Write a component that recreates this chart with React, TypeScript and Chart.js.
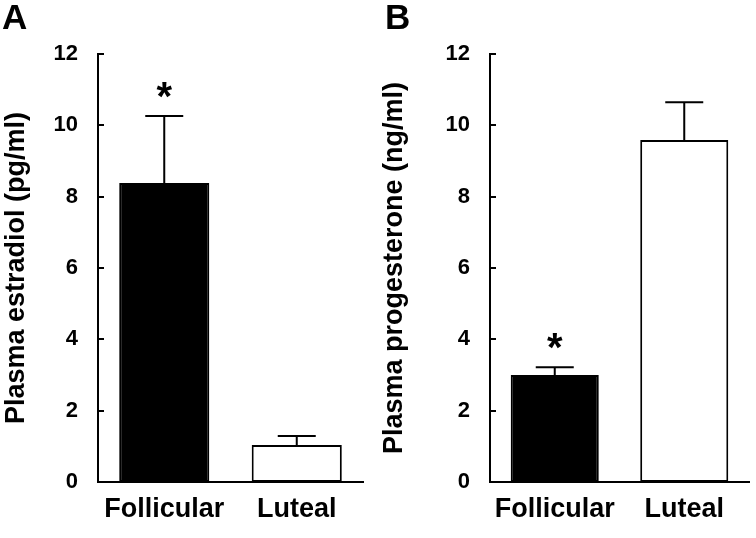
import React, { useEffect, useRef } from "react";
import { Chart, registerables } from "chart.js";

Chart.register(...registerables);

const categories = ["Follicular", "Luteal"];
const estradiolMeans = [8.38, 1.04];
const estradiolSem = [1.88, 0.25];
const progesteroneMeans = [3.0, 9.59];
const progesteroneSem = [0.22, 1.06];
const barColors = ["#000000", "#ffffff"];
const yTicks = [0, 2, 4, 6, 8, 10, 12];
const significant = [true, false];

const FONT = "'Liberation Sans', Arial, sans-serif";

const overlayPlugin = {
  id: "overlay",
  afterDatasetsDraw(chart: any, _args: any, opts: any) {
    const ctx = chart.ctx;
    const x = chart.scales.x;
    const y = chart.scales.y;
    ctx.save();
    ctx.strokeStyle = "#000";
    ctx.lineWidth = 2;
    // inward ticks
    for (const t of yTicks) {
      const py = Math.round(y.getPixelForValue(t));
      ctx.beginPath();
      ctx.moveTo(x.left, py);
      ctx.lineTo(x.left + 6, py);
      ctx.stroke();
    }
    const means: number[] = opts.means;
    const sems: number[] = opts.sems;
    means.forEach((m, i) => {
      const cx = x.getPixelForValue(i);
      const top = y.getPixelForValue(m);
      const et = y.getPixelForValue(m + sems[i]);
      ctx.beginPath();
      ctx.moveTo(cx, top);
      ctx.lineTo(cx, et);
      ctx.moveTo(cx - 19, et);
      ctx.lineTo(cx + 19, et);
      ctx.stroke();
      if (opts.sig[i]) {
        ctx.fillStyle = "#000";
        ctx.font = "bold 40px " + FONT;
        ctx.textAlign = "center";
        ctx.textBaseline = "alphabetic";
        ctx.fillText("*", cx, et - 6);
      }
    });
    ctx.restore();
  },
};

function Panel(props: {
  means: number[];
  sems: number[];
  title: string;
  letter: string;
  yWidth: number;
  padRight: number;
  left: number;
  letterX: number;
}) {
  const ref = useRef<HTMLCanvasElement>(null);
  useEffect(() => {
    if (!ref.current) return;
    const chart = new Chart(ref.current, {
      type: "bar",
      data: {
        labels: categories,
        datasets: [
          {
            data: props.means,
            backgroundColor: barColors,
            borderColor: "#000",
            borderWidth: 2,
            borderSkipped: false,
            barPercentage: 0.68,
            categoryPercentage: 1,
          },
        ],
      },
      options: {
        responsive: false,
        animation: false,
        layout: { padding: { top: 54, right: props.padRight, left: 0, bottom: 0 } },
        plugins: {
          legend: { display: false },
          tooltip: { enabled: false },
          overlay: { means: props.means, sems: props.sems, sig: significant },
        } as any,
        scales: {
          x: {
            grid: { display: false, drawTicks: false },
            border: { display: true, color: "#000", width: 2 },
            ticks: {
              color: "#000",
              font: { family: FONT, size: 27, weight: "bold" },
              padding: 11,
            },
            afterFit: (s: any) => {
              s.height = 56;
            },
          },
          y: {
            min: 0,
            max: 12,
            afterBuildTicks: (s: any) => {
              s.ticks = yTicks.map((v) => ({ value: v }));
            },
            grid: { display: false, drawTicks: false },
            border: { display: true, color: "#000", width: 2 },
            ticks: {
              color: "#000",
              font: { family: FONT, size: 22, weight: "bold" },
              padding: 20,
            },
            title: {
              display: true,
              text: props.title,
              color: "#000",
              font: { family: FONT, size: 27, weight: "bold" },
              padding: { top: 0, bottom: 0 },
            },
            afterFit: (s: any) => {
              s.width = props.yWidth;
            },
          },
        },
      },
      plugins: [overlayPlugin],
    });
    return () => chart.destroy();
  }, []);
  return (
    <div style={{ position: "absolute", left: props.left, top: 0, width: 378, height: 538 }}>
      <canvas ref={ref} width={378} height={538} style={{ display: "block" }} />
      <div
        style={{
          position: "absolute",
          left: props.letterX,
          top: -3,
          fontFamily: FONT,
          fontWeight: "bold",
          fontSize: 35,
          lineHeight: "40px",
          color: "#000",
        }}
      >
        {props.letter}
      </div>
    </div>
  );
}

export default function App() {
  return (
    <div style={{ position: "fixed", left: 0, top: 0, width: 756, height: 538, background: "#fff" }}>
      <Panel
        means={estradiolMeans}
        sems={estradiolSem}
        title="Plasma estradiol (pg/ml)"
        letter="A"
        yWidth={98}
        padRight={15}
        left={0}
        letterX={2}
      />
      <Panel
        means={progesteroneMeans}
        sems={progesteroneSem}
        title="Plasma progesterone (ng/ml)"
        letter="B"
        yWidth={112}
        padRight={7}
        left={378}
        letterX={7}
      />
    </div>
  );
}
